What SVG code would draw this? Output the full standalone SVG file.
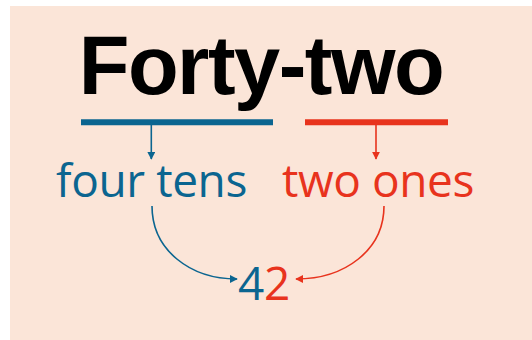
<svg xmlns="http://www.w3.org/2000/svg" width="532" height="340" viewBox="0 0 532 340">
  <style>
    .title { font-family: "Liberation Sans", Arial, sans-serif; font-weight: bold; font-size: 83px; fill: #000; letter-spacing: -1.5px; }
    .word { font-family: "Open Sans", "Noto Sans", sans-serif; font-size: 46px; letter-spacing: -0.4px; }
    .blue { fill: #0b6590; }
    .red { fill: #e8331d; }
    .bar { stroke-width: 6; fill: none; }
    .link { stroke-width: 1.6; fill: none; }
  </style>
  <defs>
    <marker id="headBlue" viewBox="0 0 10 10" refX="9" refY="5" markerWidth="8" markerHeight="8" markerUnits="userSpaceOnUse" orient="auto">
      <path d="M0,0 L10,5 L0,10 Z" fill="#0b6590"/>
    </marker>
    <marker id="headRed" viewBox="0 0 10 10" refX="9" refY="5" markerWidth="8" markerHeight="8" markerUnits="userSpaceOnUse" orient="auto">
      <path d="M0,0 L10,5 L0,10 Z" fill="#e8331d"/>
    </marker>
  </defs>

  <rect x="10" y="6" width="522" height="334" fill="#fbe5d8"/>

  <g id="title">
    <text class="title" x="261" y="94" text-anchor="middle">Forty-two</text>
  </g>

  <g id="tens">
    <line class="bar" x1="81" y1="122.3" x2="273" y2="122.3" stroke="#0b6590"/>
    <text class="word blue" x="151.5" y="197" text-anchor="middle">four tens</text>
  </g>

  <g id="ones">
    <line class="bar" x1="305" y1="122.3" x2="448" y2="122.3" stroke="#e8331d"/>
    <text class="word red" x="378" y="197" text-anchor="middle">two ones</text>
  </g>

  <g id="result">
    <text class="word" x="264" y="300" text-anchor="middle"><tspan class="blue">4</tspan><tspan class="red">2</tspan></text>
  </g>

  <g id="connectors">
    <line class="link" x1="151.3" y1="125" x2="151.3" y2="159" stroke="#0b6590" marker-end="url(#headBlue)"/>
    <line class="link" x1="376" y1="125" x2="376" y2="159" stroke="#e8331d" marker-end="url(#headRed)"/>
    <path class="link" d="M152,206 C152,250 190,279 237,279" stroke="#0b6590" marker-end="url(#headBlue)"/>
    <path class="link" d="M384,206 C384,250 345,279 296,279" stroke="#e8331d" marker-end="url(#headRed)"/>
  </g>
</svg>
